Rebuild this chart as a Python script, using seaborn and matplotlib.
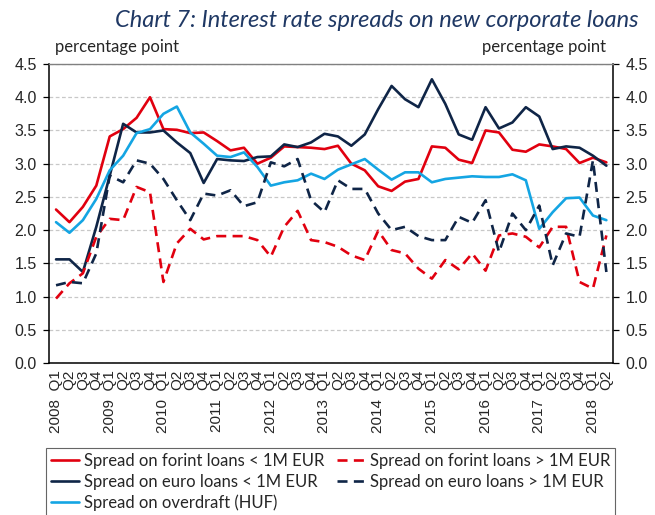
import numpy as np
import pandas as pd
import seaborn as sns
import matplotlib.pyplot as plt
from matplotlib.ticker import FixedLocator, MultipleLocator, FormatStrFormatter

# quarters 2008 Q1 .. 2018 Q2
years = [str(y) for y in range(2008, 2019)]
quarters = ["Q1", "Q2", "Q3", "Q4"]
tick_labels = []
for y in years:
    for q in quarters:
        tick_labels.append(y + "  " + q if q == "Q1" else q)
tick_labels = tick_labels[:42]

forint_small = [2.31, 2.12, 2.35, 2.67, 3.41, 3.52, 3.69, 4.0, 3.52, 3.51, 3.46, 3.47,
                3.34, 3.2, 3.24, 3.0, 3.09, 3.26, 3.25, 3.24, 3.22, 3.27, 3.0, 2.9,
                2.66, 2.59, 2.73, 2.77, 3.26, 3.24, 3.06, 3.01, 3.5, 3.47, 3.21, 3.18,
                3.29, 3.26, 3.22, 3.01, 3.09, 3.02]
forint_large = [0.97, 1.2, 1.35, 1.9, 2.17, 2.15, 2.65, 2.57, 1.22, 1.8, 2.02, 1.86,
                1.91, 1.91, 1.91, 1.85, 1.6, 2.05, 2.29, 1.85, 1.82, 1.75, 1.62, 1.55,
                1.99, 1.7, 1.65, 1.42, 1.27, 1.55, 1.41, 1.65, 1.39, 1.92, 1.95, 1.9,
                1.74, 2.05, 2.05, 1.22, 1.12, 1.92]
euro_small = [1.56, 1.56, 1.37, 2.05, 2.82, 3.6, 3.47, 3.47, 3.5, 3.32, 3.16, 2.71,
              3.07, 3.05, 3.04, 3.1, 3.11, 3.29, 3.25, 3.32, 3.45, 3.41, 3.27, 3.44,
              3.82, 4.17, 3.97, 3.85, 4.27, 3.9, 3.44, 3.36, 3.85, 3.53, 3.62, 3.85,
              3.71, 3.22, 3.26, 3.24, 3.12, 2.97]
euro_large = [1.17, 1.22, 1.2, 1.65, 2.82, 2.72, 3.05, 3.0, 2.77, 2.45, 2.15, 2.55,
              2.52, 2.6, 2.36, 2.42, 3.02, 2.96, 3.07, 2.45, 2.27, 2.75, 2.62, 2.62,
              2.25, 2.0, 2.05, 1.91, 1.85, 1.85, 2.2, 2.11, 2.45, 1.67, 2.25, 2.0,
              2.37, 1.47, 1.95, 1.9, 3.05, 1.37]
overdraft = [2.12, 1.96, 2.15, 2.47, 2.9, 3.12, 3.46, 3.52, 3.75, 3.86, 3.47, 3.3,
             3.12, 3.1, 3.17, 2.95, 2.67, 2.72, 2.75, 2.85, 2.77, 2.91, 2.99, 3.07,
             2.91, 2.76, 2.87, 2.87, 2.72, 2.77, 2.79, 2.81, 2.8, 2.8, 2.84, 2.75,
             2.02, 2.27, 2.48, 2.49, 2.22, 2.15]

RED = "#E1000F"
NAVY = "#0F2547"
CYAN = "#14A5E3"

series = [
    ("Spread on forint loans < 1M EUR", forint_small, RED, "-"),
    ("Spread on euro loans < 1M EUR", euro_small, NAVY, "-"),
    ("Spread on overdraft (HUF)", overdraft, CYAN, "-"),
    ("Spread on forint loans > 1M EUR", forint_large, RED, "--"),
    ("Spread on euro loans > 1M EUR", euro_large, NAVY, "--"),
]

sns.set_style("white")
plt.rcParams['font.family'] = ['Lato', 'DejaVu Sans']

fig = plt.figure(figsize=(6.55, 5.15), dpi=100)
ax = fig.add_axes([0.0753, 0.2951, 0.8607, 0.5806])

pos = np.arange(42)
for name, vals, col, ls in series:
    df = pd.DataFrame({'pos': pos, 'v': vals})
    sns.lineplot(data=df, x='pos', y='v', color=col, linewidth=1.9,
                 label=name, ax=ax)
    if ls == "--":
        ax.lines[-1].set_dashes((3.8, 2.4))

ax.set_xlim(-0.5, 41.5)
ax.set_ylim(0, 4.5)
ax.set_xlabel("")
ax.set_ylabel("")

ax.yaxis.set_major_locator(MultipleLocator(0.5))
ax.yaxis.set_major_formatter(FormatStrFormatter("%.1f"))
ax.grid(axis='y', color='#c8c8c8', linestyle=(0, (3, 2)), linewidth=0.9)
ax.set_axisbelow(True)

ax.xaxis.set_major_locator(FixedLocator(pos))
ax.set_xticklabels(tick_labels, rotation=90, fontsize=11, family='Liberation Sans')
ax.xaxis.set_minor_locator(FixedLocator(np.arange(-0.5, 42, 1)))
ax.tick_params(axis='x', which='major', length=0, pad=5)
ax.tick_params(axis='x', which='minor', length=4, width=0.9, direction='out', color='black')
ax.tick_params(axis='y', which='major', length=4, width=0.9, direction='out', pad=5,
               labelsize=11.5, left=True, right=True, labelright=True, color='black')
for t in ax.yaxis.get_major_ticks():
    t.label1.set_family('Liberation Sans')
    t.label2.set_family('Liberation Sans')

for s in ['left', 'bottom', 'right']:
    ax.spines[s].set_color('black')
    ax.spines[s].set_linewidth(1.1)
ax.spines['top'].set_color('#808080')
ax.spines['top'].set_linewidth(1.0)

fig.text(0.576, 0.961, "Chart 7: Interest rate spreads on new corporate loans",
         ha='center', va='center', fontsize=17, style='italic', color='#1F3864')
fig.text(0.084, 0.909, "percentage point", ha='left', va='center', fontsize=12)
fig.text(0.925, 0.909, "percentage point", ha='right', va='center', fontsize=12)

ax.legend(ncol=2, loc='upper left',
          bbox_to_anchor=(46 / 655, 1 - 448 / 515),
          bbox_transform=fig.transFigure,
          frameon=True, fancybox=False, edgecolor='#404040', fontsize=12.0,
          handlelength=1.7, handletextpad=0.25, columnspacing=0.8,
          labelspacing=0.28, borderpad=0.3, borderaxespad=0)
ax.get_legend().get_frame().set_linewidth(0.8)

fig.savefig("out.png", dpi=100)
